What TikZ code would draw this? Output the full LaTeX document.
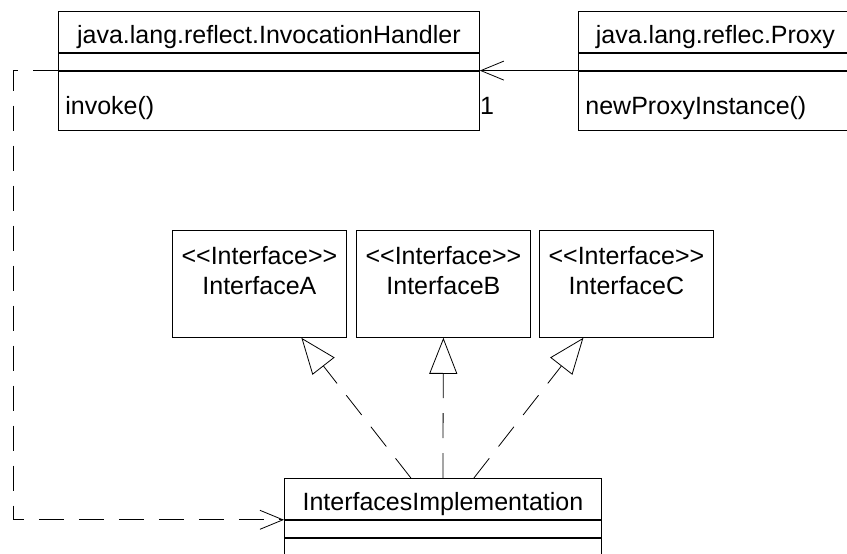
\documentclass[tikz,border=0pt]{standalone}
\usepackage{fontspec}
\setmainfont{Liberation Sans}
\usetikzlibrary{positioning,arrows.meta,calc}
\definecolor{umlink}{HTML}{000000}
\newcommand{\umlfont}{\fontsize{25}{30}\selectfont}
\newcommand{\stereo}[1]{<\kern0pt<#1>\kern0pt>}
\tikzset{
  cls/.style  ={rectangle, draw=umlink, line width=0.8pt, fill=white, text=umlink,
                font=\umlfont, inner xsep=0pt, inner ysep=0pt,
                text height=32pt, text depth=9pt, anchor=north west},
  clsa/.style ={rectangle, draw=umlink, line width=0.8pt, fill=white,
                inner sep=0pt, minimum height=17pt},
  clso/.style ={rectangle, draw=umlink, line width=0.8pt, fill=white, text=umlink,
                font=\umlfont, align=left, inner xsep=7pt, inner ysep=0pt,
                text height=43pt, text depth=16pt},
  itf/.style  ={rectangle, draw=umlink, line width=0.8pt, fill=white, text=umlink,
                font=\umlfont, align=center, text width=174pt, inner sep=0pt,
                text height=34pt, text depth=73pt, anchor=north west},
  nav/.style  ={-{Straight Barb[length=23pt,width=19pt]}, line width=0.8pt, draw=umlink},
  dep/.style  ={nav, dash pattern=on 25pt off 15pt},
  rea/.style  ={-{Triangle[length=36pt,width=28pt,fill=white]}, line width=0.8pt,
                draw=umlink, dash pattern=on 25pt off 15pt},
  mul/.style  ={font=\umlfont, text=umlink, inner sep=0pt}
}

\begin{document}
\begin{tikzpicture}[x=1pt,y=-1pt]
  \useasboundingbox (0,0) rectangle (847,554);
  % --- top row : handler <- proxy
  \node[cls,minimum width=421pt]              (ih)     at (58,11)   {java.lang.reflect.InvocationHandler};
  \node[clsa,minimum width=421pt,below=0pt of ih]     (ih-a)   {};
  \node[clso,text width=407pt,below=0pt of ih-a]      (ih-o)   {invoke()};
  \node[cls,minimum width=274pt]              (px)     at (578,11)  {java.lang.reflec.Proxy};
  \node[clsa,minimum width=274pt,below=0pt of px]     (px-a)   {};
  \node[clso,text width=260pt,below=0pt of px-a]      (px-o)   {newProxyInstance()};
  % --- interfaces
  \node[itf]                                  (ifa)    at (172,230) {\stereo{Interface}\\InterfaceA};
  \node[itf]                                  (ifb)    at (356,230) {\stereo{Interface}\\InterfaceB};
  \node[itf]                                  (ifc)    at (539,230) {\stereo{Interface}\\InterfaceC};
  % --- implementation
  \node[cls,minimum width=317pt]              (impl)   at (284,478) {InterfacesImplementation};
  \node[clsa,minimum width=317pt,below=0pt of impl]   (impl-a) {};
  \node[clso,text width=303pt,below=0pt of impl-a]    (impl-o) {};

  \draw[nav] (px-a.south west) -- (ih-a.south east);
  \node[mul,below right=26pt and 0pt of ih-a.south east] (m1) {1};
  \draw[dep] (ih-a.south west) -- ++(-45,0) |- (impl.south west);
  \draw[rea] ($(impl.north)+(-32,0)$) -- ($(ifa.south)+(42,0)$);
  \draw[rea] (impl.north) -- (ifb.south);
  \draw[rea] ($(impl.north)+(31,0)$) -- ($(ifc.south)+(-43,0)$);
\end{tikzpicture}
\end{document}
